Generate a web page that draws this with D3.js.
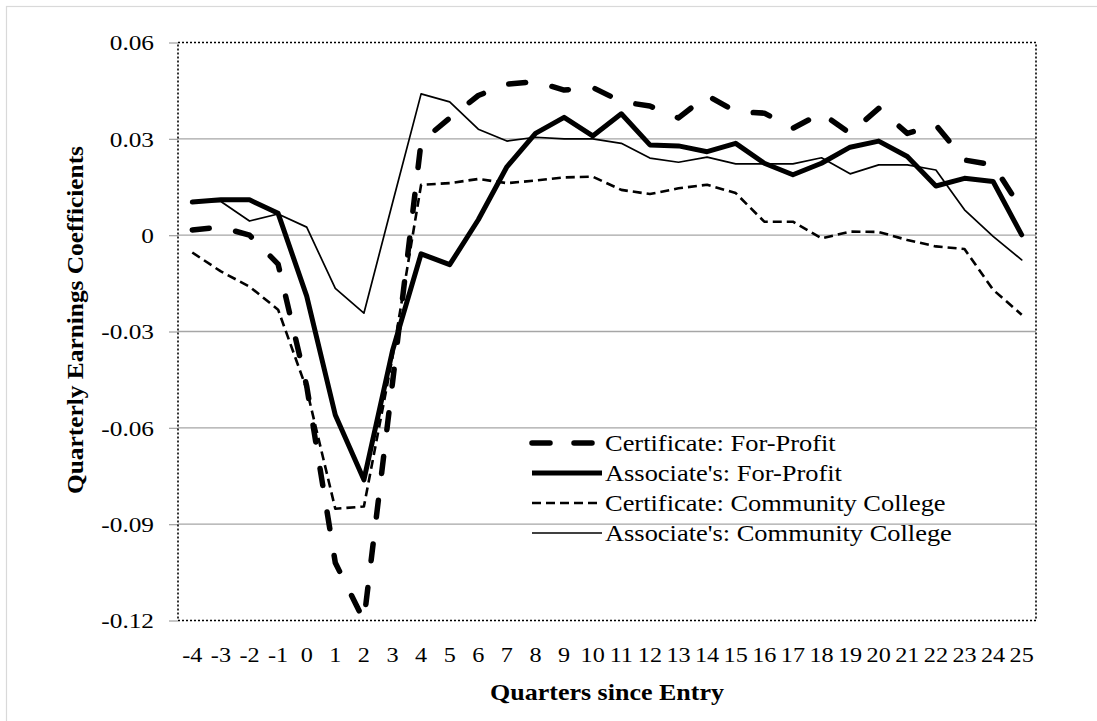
<!DOCTYPE html>
<html>
<head>
<meta charset="utf-8">
<script src="https://cdn.jsdelivr.net/npm/d3@7"></script>
<style>
  html, body { margin: 0; padding: 0; background: #fff; }
  svg { display: block; }
  text { font-family: "Liberation Serif", "Times New Roman", serif; fill: #000; }
</style>
</head>
<body>
<svg id="chart" width="1097" height="721"></svg>
<script>
// ---- data ----
const quarters = [-4,-3,-2,-1,0,1,2,3,4,5,6,7,8,9,10,11,12,13,14,15,16,17,18,19,20,21,22,23,24,25];
const certificateForProfit = [0.0016,0.0025,0.0000,-0.0090,-0.0470,-0.1020,-0.1200,-0.0460,0.0290,0.0365,0.0435,0.0470,0.0478,0.0452,0.0460,0.0416,0.0402,0.0365,0.0435,0.0385,0.0380,0.0333,0.0380,0.0317,0.0395,0.0317,0.0343,0.0234,0.0219,0.0080];
const associatesForProfit = [0.0103,0.0110,0.0110,0.0068,-0.0190,-0.0560,-0.0762,-0.0360,-0.0058,-0.0092,0.0048,0.0213,0.0317,0.0367,0.0309,0.0378,0.0281,0.0278,0.0260,0.0286,0.0224,0.0188,0.0224,0.0274,0.0293,0.0245,0.0153,0.0177,0.0167,0.0001];
const certificateCommunity = [-0.0054,-0.0113,-0.0160,-0.0232,-0.0480,-0.0852,-0.0845,-0.0380,0.0157,0.0162,0.0175,0.0162,0.0170,0.0180,0.0182,0.0141,0.0128,0.0146,0.0157,0.0131,0.0042,0.0042,-0.0010,0.0011,0.0010,-0.0015,-0.0035,-0.0043,-0.0170,-0.0248];
const associatesCommunity = [0.0105,0.0105,0.0044,0.0066,0.0025,-0.0166,-0.0243,0.0100,0.0440,0.0415,0.0330,0.0293,0.0305,0.0300,0.0300,0.0286,0.0240,0.0227,0.0243,0.0222,0.0222,0.0222,0.0241,0.0191,0.0219,0.0219,0.0203,0.0079,-0.0004,-0.0077];
const seriesNames = ["Certificate: For-Profit","Associate's: For-Profit","Certificate: Community College","Associate's: Community College"];
const yTickValues = [-0.12,-0.09,-0.06,-0.03,0,0.03,0.06];
const yTickLabels = ["-0.12","-0.09","-0.06","-0.03","0","0.03","0.06"];
const xTitle = "Quarters since Entry";
const yTitle = "Quarterly Earnings Coefficients";

// ---- styles ----
const seriesStyles = [
  {width: 5.5, dash: "17,27", cap: "round"},
  {width: 5, dash: null, cap: "round"},
  {width: 2.6, dash: "9,5", cap: "butt"},
  {width: 1.7, dash: null, cap: "round"}
];
const seriesData = [certificateForProfit, associatesForProfit, certificateCommunity, associatesCommunity];

const svg = d3.select("#chart");
const plot = {left: 178, right: 1036, top: 42.5, bottom: 620.5};

// outer chart border
svg.append("rect").attr("x", 6.5).attr("y", 6.5).attr("width", 1100).attr("height", 720)
  .attr("fill", "none").attr("stroke", "#d9d9d9").attr("stroke-width", 1.2);

const x = d3.scaleBand().domain(quarters).range([plot.left, plot.right]).padding(0);
const y = d3.scaleLinear().domain([-0.12, 0.06]).range([plot.bottom, plot.top]);
const cx = q => x(q) + x.bandwidth() / 2;

// gridlines
svg.append("g").selectAll("line").data(yTickValues.filter(v => v > -0.12 && v < 0.06)).join("line")
  .attr("x1", plot.left).attr("x2", plot.right)
  .attr("y1", d => y(d)).attr("y2", d => y(d))
  .attr("stroke", "#a6a6a6").attr("stroke-width", 1.3);

// y axis
const yAxis = d3.axisLeft(y).tickValues(yTickValues)
  .tickFormat((d, i) => yTickLabels[i]).tickSize(9).tickPadding(15);
const gy = svg.append("g").attr("transform", `translate(${plot.left},0)`).call(yAxis);
gy.select(".domain").remove();
gy.selectAll(".tick line").attr("stroke", "#a6a6a6").attr("stroke-width", 1.3);
gy.selectAll(".tick text")
  .attr("font-family", "Liberation Serif").attr("font-size", 22).attr("dy", "0.34em")
  .attr("transform", "scale(1.15,1)")
  .attr("x", -24 / 1.15);

// x axis labels
const xAxis = d3.axisBottom(x).tickSize(0).tickPadding(0);
const gx = svg.append("g").attr("transform", `translate(0,${plot.bottom})`).call(xAxis);
gx.select(".domain").remove();
gx.selectAll(".tick text")
  .attr("font-family", "Liberation Serif").attr("font-size", 22)
  .attr("y", 42).attr("dy", 0)
  .attr("transform", "scale(1.1,1)");
gx.selectAll(".tick").attr("transform", d => `translate(${cx(d) / 1.0},0)`);
gx.selectAll(".tick text").attr("transform", null)
  .each(function() {
    d3.select(this).attr("transform", "scale(1.1,1)");
  });

// lines
const line = d3.line().x((d, i) => cx(quarters[i])).y(d => y(d));
seriesData.forEach((data, k) => {
  const s = seriesStyles[k];
  svg.append("path").datum(data)
    .attr("d", line)
    .attr("fill", "none").attr("stroke", "#000")
    .attr("stroke-width", s.width)
    .attr("stroke-dasharray", s.dash)
    .attr("stroke-linecap", s.cap)
    .attr("stroke-linejoin", "round");
});

// plot frame (dotted)
svg.append("rect").attr("x", plot.left).attr("y", plot.top)
  .attr("width", plot.right - plot.left).attr("height", plot.bottom - plot.top)
  .attr("fill", "none").attr("stroke", "#000").attr("stroke-width", 1.6)
  .attr("stroke-dasharray", "2,2");

// axis titles
svg.append("text").text(xTitle)
  .attr("x", (plot.left + plot.right) / 2).attr("y", 700)
  .attr("text-anchor", "middle").attr("font-weight", "bold").attr("font-size", 23)
  .attr("textLength", 234).attr("lengthAdjust", "spacingAndGlyphs");
svg.append("text").text(yTitle)
  .attr("transform", "translate(83,320) rotate(-90)")
  .attr("text-anchor", "middle").attr("font-weight", "bold").attr("font-size", 23)
  .attr("textLength", 348).attr("lengthAdjust", "spacingAndGlyphs");

// legend
const legendY = [443, 473, 503, 533];
const lg = svg.append("g");
seriesNames.forEach((name, k) => {
  const s = seriesStyles[k];
  lg.append("line").attr("x1", 532).attr("x2", 602).attr("y1", legendY[k]).attr("y2", legendY[k])
    .attr("stroke", "#000").attr("stroke-width", s.width)
    .attr("stroke-dasharray", k === 0 ? "18,24" : s.dash)
    .attr("stroke-linecap", k === 0 ? "round" : "butt");
  lg.append("text").text(name)
    .attr("transform", `translate(605,${legendY[k] + 7.5}) scale(1.15,1)`)
    .attr("font-size", 23);
});
</script>
</body>
</html>
